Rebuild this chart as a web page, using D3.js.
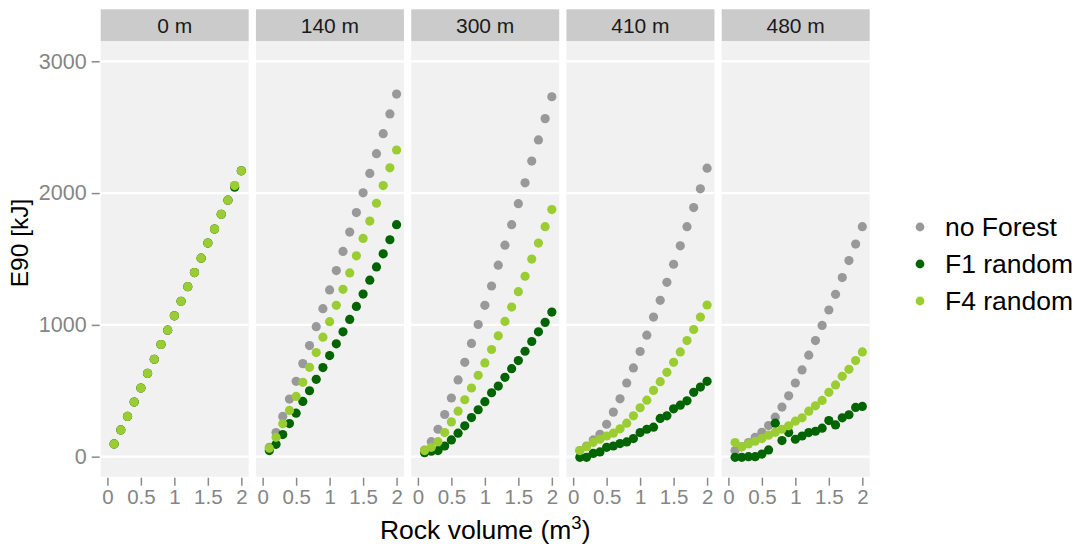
<!DOCTYPE html>
<html><head><meta charset="utf-8">
<script src="https://cdn.jsdelivr.net/npm/d3@7"></script>
<style>body{margin:0;background:#fff}svg{display:block}text{font-family:"Liberation Sans",Arial,sans-serif}</style>
</head><body><div id="chart"></div>
<script>
const panels = ["0 m","140 m","300 m","410 m","480 m"];
const seriesNames = ["no Forest","F1 random","F4 random"];
const seriesColors = ["#999999","#006400","#9ACD32"];
const volume = [0.1,0.2,0.3,0.4,0.5,0.6,0.7,0.8,0.9,1.0,1.1,1.2,1.3,1.4,1.5,1.6,1.7,1.8,1.9,2.0];
const yTicks = [0,1000,2000,3000];
const xTicks = [0,0.5,1,1.5,2];
const xTickLabels = ["0","0.5","1","1.5","2"];

// 0 m
const noForest0 = [97,203,305,414,521,632,739,851,960,1069,1179,1290,1397,1506,1621,1727,1839,1946,2057,2169];
const f1Random0 = [97,203,305,414,521,632,739,851,960,1069,1179,1290,1397,1506,1621,1727,1839,1946,2045,2169];
const f4Random0 = [97,203,305,414,521,632,739,851,960,1069,1179,1290,1397,1506,1621,1727,1839,1946,2057,2169];
// 140 m
const noForest140 = [71,183,305,437,572,706,843,986,1123,1265,1412,1557,1704,1852,2002,2149,2299,2451,2601,2751];
const f1Random140 = [46,94,168,251,330,419,500,587,676,767,856,947,1041,1140,1234,1339,1440,1539,1646,1760];
const f4Random140 = [64,147,249,351,457,564,678,790,907,1024,1148,1270,1394,1524,1656,1788,1923,2057,2192,2327];
// 300 m
const noForest300 = [50,114,208,320,445,582,716,859,1003,1148,1295,1453,1605,1760,1920,2078,2243,2403,2565,2731];
const f1Random300 = [30,41,46,81,127,178,234,297,356,417,485,536,602,668,729,800,874,947,1019,1097];
const f4Random300 = [46,71,114,183,264,345,432,521,617,711,813,917,1026,1135,1252,1369,1499,1621,1745,1875];
// 410 m
const noForest410 = [46,81,127,170,246,338,439,559,673,798,922,1059,1186,1323,1460,1600,1745,1890,2032,2189];
const f1Random410 = [-5,-5,25,36,71,81,99,112,137,183,208,224,290,310,363,391,424,488,528,572];
const f4Random410 = [46,76,109,132,157,178,211,254,310,371,429,503,569,640,716,795,881,965,1059,1151];
// 480 m
const noForest480 = [46,75,107,147,185,236,300,376,462,559,658,770,881,996,1113,1232,1359,1488,1613,1745];
const f1Random480 = [-5,-5,0,0,20,51,254,122,183,132,157,183,193,216,274,241,295,318,374,381];
const f4Random480 = [107,76,97,117,137,163,185,208,234,269,295,345,386,427,488,544,610,663,729,795];

const seriesByPanel = [
  [noForest0, f1Random0, f4Random0],
  [noForest140, f1Random140, f4Random140],
  [noForest300, f1Random300, f4Random300],
  [noForest410, f1Random410, f4Random410],
  [noForest480, f1Random480, f4Random480]
];

const W = 1077, H = 551;
const svg = d3.select("#chart").append("svg").attr("width", W).attr("height", H);

const panelLeft0 = 100.7, panelStep = 155.25, panelW = 148;
const panelTop = 41, panelBottom = 476.7, stripTop = 9.3;
const y = d3.scaleLinear().domain([-152, 3154]).range([panelBottom, panelTop]);

panels.forEach((name, i) => {
  const left = panelLeft0 + i * panelStep;
  const x = d3.scaleLinear().domain([-0.1, 2.11]).range([left, left + panelW]);
  const g = svg.append("g");
  // strip
  g.append("rect").attr("x", left).attr("y", stripTop).attr("width", panelW).attr("height", panelTop - stripTop).attr("fill", "#CBCBCB");
  g.append("text").attr("x", left + panelW / 2).attr("y", (stripTop + panelTop) / 2 + 7.5)
    .attr("text-anchor", "middle").attr("font-size", 21).attr("fill", "#1A1A1A").text(name);
  // panel
  g.append("rect").attr("x", left).attr("y", panelTop).attr("width", panelW).attr("height", panelBottom - panelTop).attr("fill", "#F1F1F1");
  g.selectAll("line.grid").data(yTicks).join("line").attr("class", "grid")
    .attr("x1", left).attr("x2", left + panelW).attr("y1", d => y(d)).attr("y2", d => y(d))
    .attr("stroke", "#FFFFFF").attr("stroke-width", 2.2);
  // x axis
  const xAxis = d3.axisBottom(x).tickValues(xTicks).tickFormat((d, k) => xTickLabels[k]).tickSize(8).tickPadding(4);
  const ax = g.append("g").attr("transform", `translate(0,${panelBottom + 1})`).call(xAxis);
  ax.select(".domain").remove();
  ax.selectAll(".tick line").attr("stroke", "#8A8A8A").attr("stroke-width", 1.5);
  ax.selectAll(".tick text").attr("font-size", 20.5).attr("fill", "#858585").attr("font-family", "Liberation Sans, Arial, sans-serif");
  // points: grey, dark green, light green
  seriesByPanel[i].forEach((vals, s) => {
    g.append("g").selectAll("circle").data(vals).join("circle")
      .attr("cx", (d, k) => x(volume[k])).attr("cy", d => y(d)).attr("r", 4.6)
      .attr("fill", seriesColors[s]);
  });
});

// y axis
const yAxis = d3.axisLeft(y).tickValues(yTicks).tickFormat(d3.format("d")).tickSize(8).tickPadding(5);
const ay = svg.append("g").attr("transform", `translate(${panelLeft0 - 1},0)`).call(yAxis);
ay.select(".domain").remove();
ay.selectAll(".tick line").attr("stroke", "#8A8A8A").attr("stroke-width", 1.5);
ay.selectAll(".tick text").attr("font-size", 21.5).attr("fill", "#858585").attr("font-family", "Liberation Sans, Arial, sans-serif");

// axis titles
const xt = svg.append("text").attr("x", (panelLeft0 + panelLeft0 + 4 * panelStep + panelW) / 2).attr("y", 539)
  .attr("text-anchor", "middle").attr("font-size", 26.5).attr("fill", "#000");
xt.append("tspan").text("Rock volume (m");
xt.append("tspan").attr("font-size", 18.5).attr("dy", -10).text("3");
xt.append("tspan").attr("dy", 10).text(")");

svg.append("text").attr("transform", `translate(28,${(stripTop + panelBottom) / 2}) rotate(-90)`)
  .attr("text-anchor", "middle").attr("font-size", 24.5).attr("fill", "#000").text("E90 [kJ]");

// legend
const legendY = [227, 264, 301];
seriesNames.forEach((n, s) => {
  svg.append("circle").attr("cx", 920).attr("cy", legendY[s]).attr("r", 4.4).attr("fill", seriesColors[s]);
  svg.append("text").attr("x", 945).attr("y", legendY[s] + 9).attr("font-size", 26.5).attr("fill", "#000").text(n);
});
</script></body></html>
